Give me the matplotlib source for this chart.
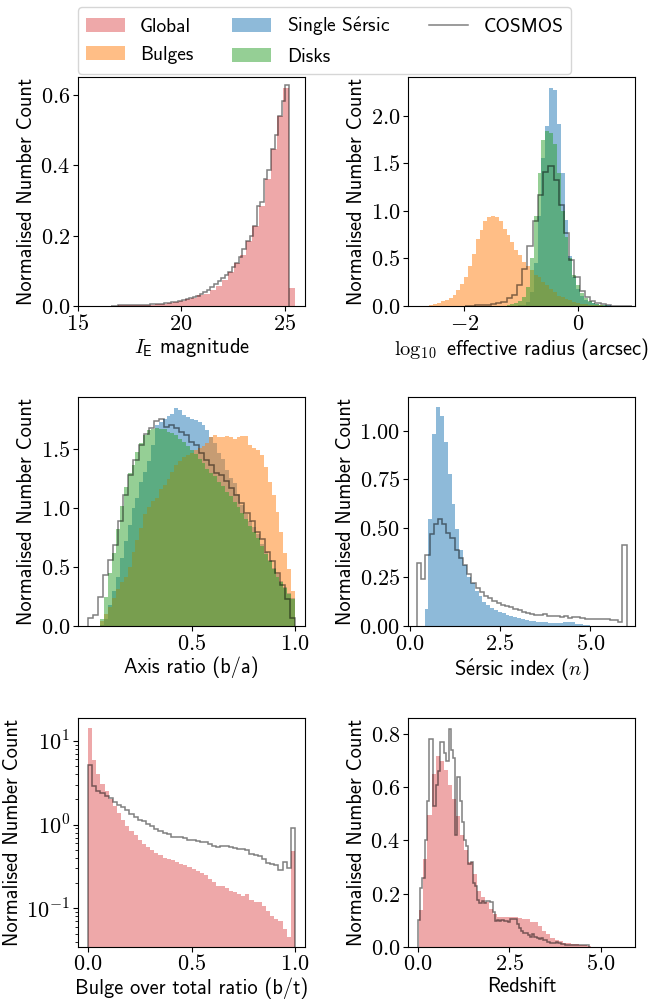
import numpy as np
import matplotlib
matplotlib.use("Agg")
import matplotlib.pyplot as plt
from matplotlib.patches import Patch
from matplotlib.lines import Line2D
from matplotlib.ticker import FuncFormatter, FixedLocator, LogLocator, NullFormatter

plt.rcParams['mathtext.fontset'] = 'cm'
plt.rcParams['axes.unicode_minus'] = True

# ---------------- data ----------------
# Panel 1: I_E magnitude
mag_range_global = (16.64, 25.52)
mag_global = [0.001, 0.002, 0.002, 0.002, 0.003, 0.003, 0.004, 0.005, 0.007, 0.009,
              0.011, 0.015, 0.019, 0.024, 0.030, 0.035, 0.045, 0.057, 0.074, 0.098,
              0.121, 0.146, 0.184, 0.228, 0.285, 0.361, 0.447, 0.541, 0.619, 0.051]
mag_range_cosmos = (16.6, 25.2)
mag_cosmos = [0.001, 0.001, 0.002, 0.002, 0.002, 0.002, 0.003, 0.003, 0.003, 0.004,
              0.004, 0.005, 0.005, 0.006, 0.007, 0.008, 0.009, 0.010, 0.012, 0.014,
              0.017, 0.019, 0.022, 0.026, 0.029,
              0.033, 0.039, 0.045, 0.055, 0.062, 0.070, 0.079, 0.088, 0.098, 0.110,
              0.121, 0.138, 0.161, 0.184, 0.198, 0.228, 0.285, 0.297, 0.361, 0.388,
              0.446, 0.486, 0.541, 0.584, 0.629]

# Panel 2: log10 effective radius
rad_range = (-2.617, 0.783)
rad_single = [0.0, 0.0, 0.0, 0.0, 0.0, 0.0, 0.0, 0.0, 0.0, 0.0,
              0.0, 0.0, 0.0, 0.0, 0.0, 0.0, 0.0, 0.0, 0.0, 0.001,
              0.001, 0.002, 0.004, 0.008, 0.015, 0.04, 0.15, 0.45, 0.95, 1.55,
              1.89, 2.29, 2.27, 1.91, 1.40, 0.90, 0.52, 0.30, 0.18, 0.10,
              0.06, 0.04, 0.03, 0.02, 0.015, 0.01, 0.008, 0.005, 0.003, 0.002]
rad_bulge = [0.01, 0.02, 0.03, 0.05, 0.06, 0.08, 0.12, 0.17, 0.23, 0.30,
             0.42, 0.55, 0.70, 0.80, 0.89, 0.93, 0.945, 0.93, 0.89, 0.81,
             0.75, 0.67, 0.59, 0.54, 0.46, 0.42, 0.38, 0.33, 0.30, 0.25,
             0.22, 0.18, 0.15, 0.11, 0.09, 0.07, 0.06, 0.04, 0.03, 0.025,
             0.02, 0.015, 0.01, 0.008, 0.006, 0.004, 0.003, 0.002, 0.001, 0.001]
rad_disk = [0.0, 0.0, 0.0, 0.0, 0.0, 0.0, 0.0, 0.0, 0.0, 0.0,
            0.0, 0.0, 0.0, 0.0, 0.0, 0.0, 0.0, 0.0, 0.002, 0.005,
            0.01, 0.02, 0.03, 0.05, 0.09, 0.20, 0.50, 0.95, 1.40, 1.74,
            1.84, 1.82, 1.70, 1.40, 1.00, 0.72, 0.50, 0.33, 0.22, 0.14,
            0.08, 0.05, 0.03, 0.02, 0.012, 0.008, 0.005, 0.003, 0.002, 0.001]
rad_range_cosmos = (-1.995, 0.949)
rad_cosmos = [0.003, 0.005, 0.008, 0.01, 0.015, 0.02, 0.03, 0.04, 0.08, 0.12,
              0.22, 0.39, 0.63, 0.89, 1.17, 1.41, 1.47, 1.32, 1.06, 0.77,
              0.48, 0.30, 0.16, 0.09, 0.05, 0.03, 0.02, 0.01, 0.005, 0.003,
              0.002, 0.001]

# Panel 3: axis ratio
q_range = (0.06, 1.0)
q_single = [0.01, 0.06, 0.18, 0.30, 0.42, 0.58, 0.72, 0.86, 1.00, 1.09,
            1.22, 1.31, 1.40, 1.54, 1.71, 1.73, 1.76, 1.78, 1.80, 1.85,
            1.83, 1.79, 1.77, 1.76, 1.75, 1.73, 1.71, 1.66, 1.60, 1.55,
            1.47, 1.42, 1.32, 1.26, 1.21, 1.12, 1.03, 0.95, 0.89, 0.84,
            0.78, 0.70, 0.63, 0.56, 0.49, 0.44, 0.38, 0.33, 0.28, 0.24]
q_bulge = [0.04, 0.10, 0.16, 0.24, 0.31, 0.37, 0.42, 0.50, 0.63, 0.73,
           0.83, 0.95, 1.01, 1.06, 1.09, 1.16, 1.20, 1.25, 1.31, 1.37,
           1.40, 1.43, 1.45, 1.47, 1.49, 1.51, 1.53, 1.55, 1.60, 1.62,
           1.60, 1.60, 1.61, 1.60, 1.59, 1.60, 1.61, 1.61, 1.54, 1.51,
           1.49, 1.45, 1.35, 1.22, 1.11, 0.97, 0.80, 0.62, 0.48, 0.30]
q_disk = [0.06, 0.25, 0.45, 0.62, 0.82, 1.02, 1.18, 1.30, 1.37, 1.48,
          1.55, 1.62, 1.66, 1.67, 1.68, 1.67, 1.67, 1.65, 1.64, 1.62,
          1.59, 1.56, 1.53, 1.49, 1.46, 1.42, 1.38, 1.33, 1.30, 1.27,
          1.22, 1.19, 1.14, 1.10, 1.05, 1.01, 0.96, 0.91, 0.85, 0.80,
          0.75, 0.68, 0.61, 0.55, 0.48, 0.42, 0.37, 0.32, 0.27, 0.23]
q_range_cosmos = (0.0, 1.0)
q_cosmos = [0.065, 0.093, 0.25, 0.43, 0.56, 0.69, 0.89, 1.11, 1.28, 1.41,
            1.54, 1.63, 1.68, 1.74, 1.76, 1.69, 1.71, 1.68, 1.65, 1.62,
            1.56, 1.54, 1.47, 1.41, 1.37, 1.30, 1.28, 1.23, 1.17, 1.11,
            1.04, 0.96, 0.89, 0.80, 0.74, 0.63, 0.55, 0.45, 0.35, 0.23,
            0.07]

# Panel 4: Sersic index
n_range_single = (0.41, 5.0)
n_single = [0.087, 0.547, 0.983, 1.12, 1.077, 0.94, 0.778, 0.624, 0.497, 0.39,
            0.313, 0.253, 0.219, 0.181, 0.154, 0.125, 0.108, 0.094, 0.082, 0.074,
            0.065, 0.056, 0.051, 0.044, 0.039, 0.034, 0.031, 0.027, 0.024, 0.022,
            0.020, 0.018, 0.017, 0.017, 0.017, 0.017, 0.019, 0.020, 0.019, 0.012,
            0.009, 0.007, 0.005]
n_range_cosmos = (0.2, 6.0)
n_cosmos = [0.32, 0.24, 0.364, 0.47, 0.52, 0.547, 0.52, 0.475, 0.45, 0.39,
            0.35, 0.31, 0.265, 0.219, 0.193, 0.173, 0.156, 0.142, 0.128, 0.116,
            0.108, 0.103, 0.096, 0.087, 0.080, 0.073, 0.065, 0.060, 0.056, 0.056,
            0.060, 0.051, 0.053, 0.050, 0.046, 0.050, 0.041, 0.044, 0.048, 0.039,
            0.036, 0.036, 0.038, 0.036, 0.034, 0.034, 0.031, 0.029, 0.022, 0.415]

# Panel 5: bulge over total ratio
bt_range = (0.0, 1.0)
bt_global = [14.2, 5.9, 4.0, 3.05, 2.54, 2.0, 1.66, 1.38, 1.15, 0.955,
             0.84, 0.745, 0.66, 0.59, 0.54, 0.50, 0.461, 0.43, 0.40, 0.39,
             0.373, 0.356, 0.34, 0.325, 0.31, 0.296, 0.278, 0.263, 0.247, 0.225,
             0.205, 0.187, 0.183, 0.175, 0.163, 0.156, 0.149, 0.142, 0.149, 0.124,
             0.12, 0.118, 0.108, 0.094, 0.082, 0.074, 0.071, 0.056, 0.046, 0.48]
bt_cosmos = [5.15, 2.88, 2.54, 2.40, 2.19, 2.05, 1.87, 1.71, 1.60, 1.49,
             1.33, 1.24, 1.15, 1.11, 1.03, 0.955, 0.895, 0.83, 0.79, 0.765,
             0.72, 0.71, 0.71, 0.69, 0.66, 0.65, 0.63, 0.62, 0.62, 0.59,
             0.56, 0.54, 0.55, 0.56, 0.54, 0.53, 0.515, 0.515, 0.50, 0.45,
             0.43, 0.42, 0.39, 0.35, 0.34, 0.325, 0.29, 0.355, 0.30, 0.92]

# Panel 6: redshift
z_range_global = (0.036, 4.74)
z_global = [0.138, 0.33, 0.496, 0.65, 0.718, 0.70, 0.665, 0.61, 0.555, 0.49,
            0.42, 0.364, 0.318, 0.274, 0.21, 0.188, 0.17, 0.14, 0.123, 0.113,
            0.11, 0.11, 0.112, 0.11, 0.108, 0.105, 0.103, 0.092, 0.092, 0.078,
            0.059, 0.048, 0.034, 0.025, 0.02, 0.014, 0.014, 0.01, 0.01, 0.008,
            0.006, 0.004]
z_range_cosmos = (0.0, 4.68)
z_cosmos = [0.10, 0.22, 0.26, 0.40, 0.55, 0.78, 0.78, 0.53, 0.61, 0.66,
            0.77, 0.77, 0.73, 0.70, 0.82, 0.74, 0.71, 0.42, 0.64, 0.55,
            0.47, 0.40, 0.38, 0.31, 0.32, 0.24, 0.23, 0.175, 0.165, 0.173,
            0.165, 0.171, 0.171, 0.17, 0.132, 0.095, 0.102, 0.098, 0.102, 0.095,
            0.098, 0.092, 0.103, 0.103, 0.103, 0.085, 0.07, 0.06, 0.05, 0.05,
            0.044, 0.038, 0.046, 0.036, 0.034, 0.03, 0.031, 0.026, 0.024, 0.018,
            0.013, 0.013, 0.013, 0.016, 0.014, 0.012, 0.009, 0.005, 0.005, 0.005,
            0.005, 0.005, 0.005, 0.005, 0.005, 0.005, 0.005, 0.005]

SERSIC = r"S$\acute{\mathsf{e}}$rsic"
labels = ["Global", "Bulges", "Single " + SERSIC, "Disks", "COSMOS"]

# ---------------- style ----------------
C_GLOBAL = ('#d62728', 0.4)
C_SINGLE = ('#1f77b4', 0.5)
C_BULGE = ('#ff7f0e', 0.5)
C_DISK = ('#2ca02c', 0.5)
C_COSMOS = ('black', 0.5)

LABEL_FONT = ['cmss10', 'DejaVu Sans']
LFS = 14.7
TFS = 16


def edges(rng, vals):
    return np.linspace(rng[0], rng[1], len(vals) + 1)


def filled(ax, vals, rng, c, baseline=0):
    ax.stairs(vals, edges(rng, vals), fill=True, color=c[0], alpha=c[1],
              linewidth=0, baseline=baseline)


def step(ax, vals, rng, baseline=0):
    ax.stairs(vals, edges(rng, vals), fill=False, color=C_COSMOS[0],
              alpha=C_COSMOS[1], linewidth=1.1, baseline=baseline)


def fmt(d):
    return FuncFormatter(lambda v, p: f"${v:.{d}f}$")


def style(ax, xlabel, xticks, xd, yticks, yd):
    ax.set_xlabel(xlabel, fontsize=LFS, family=LABEL_FONT, labelpad=2)
    ax.set_ylabel("Normalised Number Count", fontsize=LFS, family=LABEL_FONT,
                  labelpad=3)
    ax.xaxis.set_major_locator(FixedLocator(xticks))
    ax.xaxis.set_major_formatter(fmt(xd))
    if yticks is not None:
        ax.yaxis.set_major_locator(FixedLocator(yticks))
        ax.yaxis.set_major_formatter(fmt(yd))
    ax.tick_params(labelsize=TFS, pad=2)


fig = plt.figure(figsize=(6.54, 10.06), dpi=100)
W, H = 654, 1006
lefts = [77.7, 407.7]
bottoms = [306, 626, 946.7]
aw, ah = 227.6, 228.6


def mkax(r, c):
    return fig.add_axes([lefts[c] / W, 1 - bottoms[r] / H, aw / W, ah / H])


# Panel 1
ax = mkax(0, 0)
filled(ax, mag_global, mag_range_global, C_GLOBAL)
step(ax, mag_cosmos, mag_range_cosmos)
ax.set_xlim(15, 26)
ax.set_ylim(0, 0.65)
style(ax, r"$I_{\mathsf{E}}$ magnitude", [15, 20, 25], 0, [0, 0.2, 0.4, 0.6], 1)

# Panel 2
ax = mkax(0, 1)
filled(ax, rad_single, rad_range, C_SINGLE)
filled(ax, rad_bulge, rad_range, C_BULGE)
filled(ax, rad_disk, rad_range, C_DISK)
step(ax, rad_cosmos, rad_range_cosmos)
ax.set_xlim(-3.0, 1.01)
ax.set_ylim(0, 2.4)
style(ax, r"$\log_{10}$ effective radius (arcsec)", [-2, 0], 0,
      [0, 0.5, 1.0, 1.5, 2.0], 1)

# Panel 3
ax = mkax(1, 0)
filled(ax, q_single, q_range, C_SINGLE)
filled(ax, q_bulge, q_range, C_BULGE)
filled(ax, q_disk, q_range, C_DISK)
step(ax, q_cosmos, q_range_cosmos)
ax.set_xlim(-0.05, 1.05)
ax.set_ylim(0, 1.94)
style(ax, "Axis ratio (b/a)", [0.5, 1.0], 1, [0, 0.5, 1.0, 1.5], 1)

# Panel 4
ax = mkax(1, 1)
filled(ax, n_single, n_range_single, C_SINGLE)
step(ax, n_cosmos, n_range_cosmos)
ax.set_xlim(-0.055, 6.24)
ax.set_ylim(0, 1.17)
style(ax, SERSIC + r" index ($n$)", [0, 2.5, 5.0], 1,
      [0, 0.25, 0.5, 0.75, 1.0], 2)

# Panel 5 (log)
ax = mkax(2, 0)
ax.set_yscale('log')
filled(ax, bt_global, bt_range, C_GLOBAL, baseline=1e-3)
step(ax, bt_cosmos, bt_range, baseline=1e-3)
ax.set_xlim(-0.05, 1.05)
ax.set_ylim(0.0348, 18.7)
style(ax, "Bulge over total ratio (b/t)", [0, 0.5, 1.0], 1, None, 1)
ax.yaxis.set_major_locator(LogLocator(base=10))
ax.yaxis.set_major_formatter(FuncFormatter(
    lambda v, p: f"$10^{{{int(round(np.log10(v)))}}}$"))
ax.yaxis.set_minor_locator(LogLocator(base=10, subs=np.arange(2, 10)))
ax.yaxis.set_minor_formatter(NullFormatter())

# Panel 6
ax = mkax(2, 1)
filled(ax, z_global, z_range_global, C_GLOBAL)
step(ax, z_cosmos, z_range_cosmos)
ax.set_xlim(-0.28, 5.94)
ax.set_ylim(0, 0.86)
style(ax, "Redshift", [0, 2.5, 5.0], 1, [0, 0.2, 0.4, 0.6, 0.8], 1)

# Legend
handles = [Patch(color=C_GLOBAL[0], alpha=C_GLOBAL[1], lw=0),
           Patch(color=C_BULGE[0], alpha=C_BULGE[1], lw=0),
           Patch(color=C_SINGLE[0], alpha=C_SINGLE[1], lw=0),
           Patch(color=C_DISK[0], alpha=C_DISK[1], lw=0),
           Line2D([], [], color=C_COSMOS[0], alpha=C_COSMOS[1], lw=1.1)]
fig.legend(handles, labels, ncol=3, loc='upper left',
           bbox_to_anchor=(78 / W, 1 - 7 / H), borderaxespad=0,
           prop={'family': LABEL_FONT, 'size': 14})

fig.savefig("out.png", dpi=100)
